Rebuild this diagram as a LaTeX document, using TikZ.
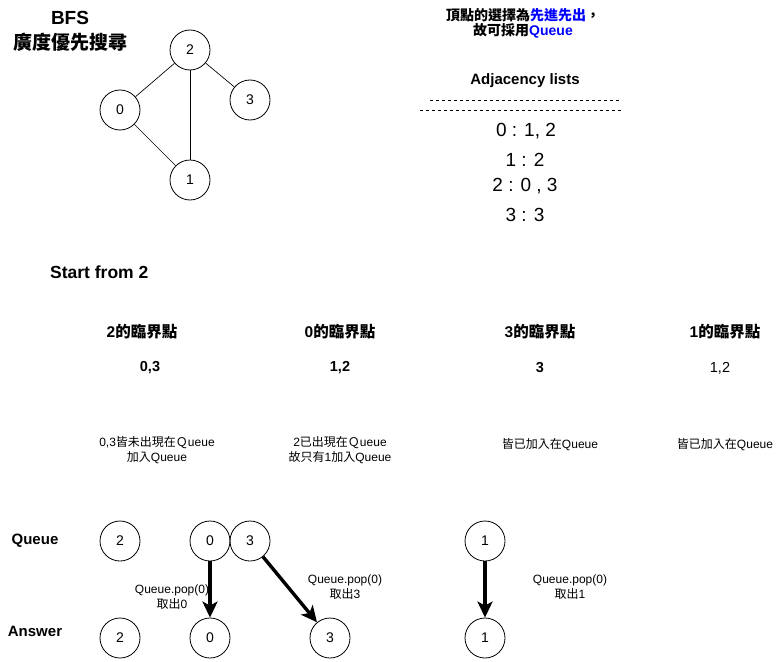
\documentclass[tikz,border=0pt]{standalone}
\usepackage{fontspec}
\setmainfont{Liberation Sans}
\newfontfamily\cjk{Noto Sans CJK TC}
\usetikzlibrary{arrows.meta}
\definecolor{qblue}{HTML}{0000FF}
\begin{document}
\begin{tikzpicture}[x=1pt,y=-1pt,
  vert/.style={draw,circle,minimum size=40pt,inner sep=0pt,line width=0.8pt,font=\fontsize{14}{16}\selectfont},
  edge/.style={draw,line width=0.7pt},
  poparrow/.style={draw,line width=3.4pt,-{Stealth[length=16pt,width=15pt,inset=4pt]}},
  small/.style={font=\fontsize{12}{15}\selectfont,align=center,inner sep=0pt},
  head/.style={font=\fontsize{15.5}{18}\selectfont\bfseries,inner sep=0pt},
  lbl/.style={font=\fontsize{15}{18}\selectfont\bfseries,inner sep=0pt},
  adjent/.style={inner sep=0pt,font=\fontsize{19}{22}\selectfont}
]
\useasboundingbox (0,0) rectangle (781,661);
% title
\node[inner sep=0pt,align=center,font=\fontsize{19}{25}\selectfont\bfseries] (title) at (70,31) {BFS\\{\cjk 廣度優先搜尋}};
% graph
\node[vert] (g2) at (190,50) {2};
\node[vert] (g0) at (120,110) {0};
\node[vert] (g3) at (250,100) {3};
\node[vert] (g1) at (190,180) {1};
\draw[edge] (g2) -- (g0);
\draw[edge] (g2) -- (g1);
\draw[edge] (g2) -- (g3);
\draw[edge] (g0) -- (g1);
% note
\node[inner sep=0pt,align=center,font=\fontsize{14}{15}\selectfont\bfseries] (note) at (523,23)
  {{\cjk 頂點的選擇為\textcolor{qblue}{先進先出}，}\\{\cjk 故可採用}\textcolor{qblue}{Queue}};
% adjacency
\node[lbl] (adj) at (525,81) {Adjacency lists};
\coordinate (d1a) at (430,100); \coordinate (d1b) at (620,100);
\coordinate (d2a) at (420,110); \coordinate (d2b) at (621,110);
\draw[line width=0.6pt,dash pattern=on 3pt off 3pt] (d1a) -- (d1b);
\draw[line width=0.6pt,dash pattern=on 3pt off 3pt] (d2a) -- (d2b);
\node[adjent] (a0) at (526,131) {0 : 1, 2};
\node[adjent] (a1) at (525,160) {1 : 2};
\node[adjent] (a2) at (525,186) {2 : 0 , 3};
\node[adjent] (a3) at (525,215) {3 : 3};
% start
\node[lbl,anchor=west,font=\fontsize{17.5}{20}\selectfont\bfseries] (start) at (50,272) {Start from 2};
% neighbor headings
\node[head] (h2) at (142,332) {2{\cjk 的臨界點}};
\node[head] (h0) at (340,332) {0{\cjk 的臨界點}};
\node[head] (h3) at (540,332) {3{\cjk 的臨界點}};
\node[head] (h1) at (725,332) {1{\cjk 的臨界點}};
\node[inner sep=0pt,font=\fontsize{14.5}{16}\selectfont\bfseries] (n2) at (150,368) {0,3};
\node[inner sep=0pt,font=\fontsize{14.5}{16}\selectfont\bfseries] (n0) at (340,368) {1,2};
\node[inner sep=0pt,font=\fontsize{14.5}{16}\selectfont\bfseries] (n3) at (540,368) {3};
\node[inner sep=0pt,font=\fontsize{14.5}{16}\selectfont] (n1) at (720,368) {1,2};
\node[small] (c2) at (157,450) {0,3{\cjk 皆未出現在Ｑ}ueue\\{\cjk 加入}Queue};
\node[small] (c0) at (340,450) {2{\cjk 已出現在Ｑ}ueue\\{\cjk 故只有}1{\cjk 加入}Queue};
\node[small] (c3) at (550,445) {{\cjk 皆已加入在}Queue};
\node[small] (c1) at (725,445) {{\cjk 皆已加入在}Queue};
% queue / answer
\node[lbl] (qlab) at (35,541) {Queue};
\node[lbl] (alab) at (35,631) {Answer};
\node[vert] (q2) at (120,541) {2};
\node[vert] (q0) at (210,541) {0};
\node[vert] (q3) at (250,541) {3};
\node[vert] (q1) at (485,541) {1};
\node[vert] (r2) at (120,638) {2};
\node[vert] (r0) at (210,638) {0};
\node[vert] (r3) at (330,638) {3};
\node[vert] (r1) at (485,638) {1};
\draw[poparrow] (q0) -- (r0);
\draw[poparrow] (q3) -- (r3);
\draw[poparrow] (q1) -- (r1);
\node[small] (p0) at (172,597) {Queue.pop(0)\\{\cjk 取出}0};
\node[small] (p3) at (345,587) {Queue.pop(0)\\{\cjk 取出}3};
\node[small] (p1) at (570,587) {Queue.pop(0)\\{\cjk 取出}1};
\end{tikzpicture}
\end{document}
